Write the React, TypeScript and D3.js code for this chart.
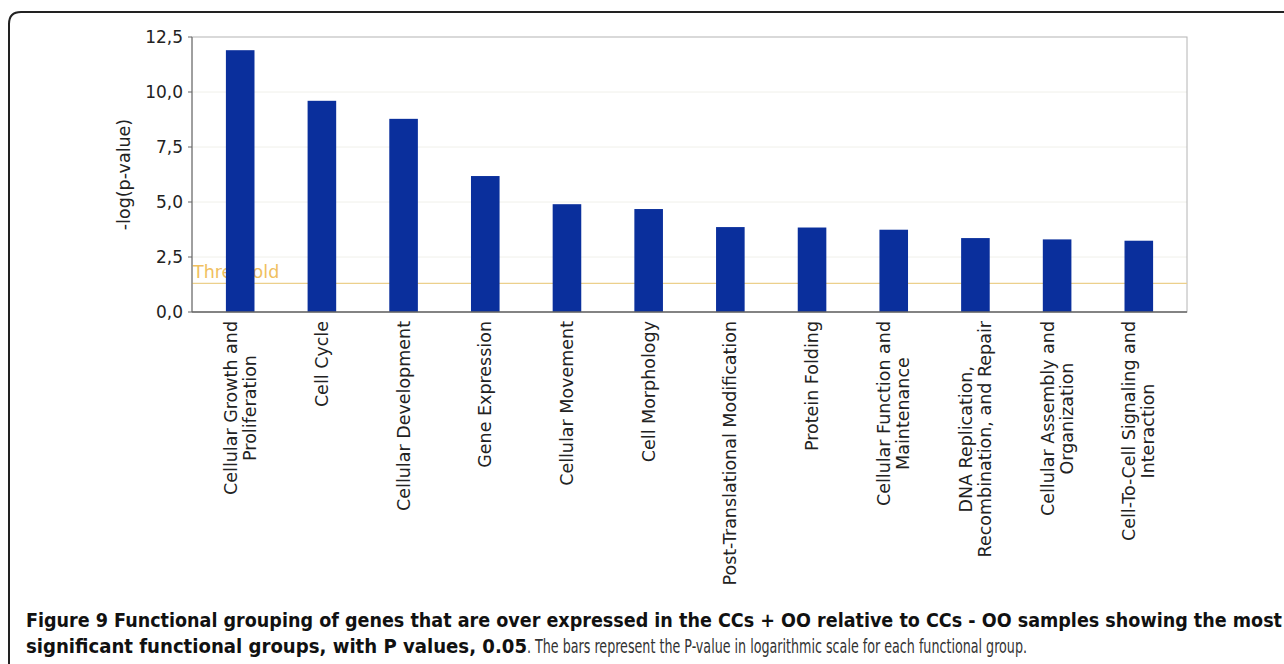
import * as d3 from "d3";
import React from "react";

// functional groups, left to right (line breaks as in the original labels)
const categories: string[][] = [
  ["Cellular Growth and", "Proliferation"],
  ["Cell Cycle"],
  ["Cellular Development"],
  ["Gene Expression"],
  ["Cellular Movement"],
  ["Cell Morphology"],
  ["Post-Translational Modification"],
  ["Protein Folding"],
  ["Cellular Function and", "Maintenance"],
  ["DNA Replication,", "Recombination, and Repair"],
  ["Cellular Assembly and", "Organization"],
  ["Cell-To-Cell Signaling and", "Interaction"],
];
const values: number[] = [11.9, 9.6, 8.78, 6.18, 4.9, 4.68, 3.86, 3.84, 3.74, 3.36, 3.3, 3.24];
const yTicks: number[] = [0, 2.5, 5, 7.5, 10, 12.5];
const threshold = 1.3; // -log(0.05)

const captionLine1 =
  "Figure 9 Functional grouping of genes that are over expressed in the CCs + OO relative to CCs - OO samples showing the most";
const captionBold2 = "significant functional groups, with P values, 0.05";
const captionNormal2 = ". The bars represent the P-value in logarithmic scale for each functional group.";

const W = 1284;
const H = 664;
const plot = { left: 192, right: 1187, top: 37, bottom: 312 };
const chartFont = "'DejaVu Sans', Verdana, sans-serif";
const capFont = "'Liberation Sans Narrow', 'DejaVu Sans Condensed', sans-serif";
const labelSize = 17.5;

// measure label widths so wrapped labels hang from the axis like the original
let ctx: CanvasRenderingContext2D | null = null;
function textWidth(s: string, size: number): number {
  if (!ctx) ctx = document.createElement("canvas").getContext("2d");
  if (!ctx) return s.length * size * 0.58;
  ctx.font = `${size}px 'DejaVu Sans'`;
  return ctx.measureText(s).width;
}

export default function App() {
  const x = d3
    .scaleBand<number>()
    .domain(d3.range(values.length))
    .range([plot.left, plot.right])
    .paddingInner(0.65)
    .paddingOuter(0.415);
  const y = d3.scaleLinear().domain([0, 12.5]).range([plot.bottom, plot.top]);
  const fmt = (v: number) => d3.format(".1f")(v).replace(".", ",");

  return (
    <svg
      width={W}
      height={H}
      style={{ position: "absolute", left: 0, top: 0, background: "#fff" }}
      fontFamily={chartFont}
    >
      {/* outer frame */}
      <path d={`M9,${H + 5} V24 Q9,12 21,12 H${W + 5}`} fill="none" stroke="#222" strokeWidth={2} />

      {/* grid */}
      {yTicks.slice(1, -1).map((t) => (
        <line key={t} x1={plot.left} x2={plot.right} y1={y(t)} y2={y(t)} stroke="#f0f0ea" />
      ))}

      {/* plot border */}
      <rect
        x={plot.left}
        y={plot.top}
        width={plot.right - plot.left}
        height={plot.bottom - plot.top}
        fill="none"
        stroke="#b4b4b4"
      />

      {/* threshold */}
      <line x1={plot.left} x2={plot.right} y1={y(threshold)} y2={y(threshold)} stroke="#ecd08c" strokeWidth={1.2} />
      <text x={plot.left + 1} y={y(threshold) - 5} fontSize={17.5} fill="#f0c060">
        Threshold
      </text>

      {/* bars */}
      {values.map((v, i) => (
        <rect key={i} x={x(i)} y={y(v)} width={x.bandwidth()} height={y(0) - y(v)} fill="#0a2f9c" />
      ))}

      {/* axes */}
      <line x1={plot.left} x2={plot.left} y1={plot.top} y2={plot.bottom} stroke="#666" />
      <line x1={plot.left} x2={plot.right} y1={plot.bottom} y2={plot.bottom} stroke="#666" strokeWidth={1.5} />
      {yTicks.map((t) => (
        <g key={t}>
          <line x1={plot.left - 4} x2={plot.left} y1={y(t)} y2={y(t)} stroke="#666" />
          <text x={plot.left - 9} y={y(t)} dy="0.35em" textAnchor="end" fontSize={17} fill="#222">
            {fmt(t)}
          </text>
        </g>
      ))}
      <text
        transform={`translate(130,${(plot.top + plot.bottom) / 2}) rotate(-90)`}
        textAnchor="middle"
        fontSize={17.5}
        fill="#222"
      >
        -log(p-value)
      </text>

      {/* category labels */}
      {categories.map((lines, i) => {
        const cx = (x(i) as number) + x.bandwidth() / 2;
        const lh = 19;
        const base0 = cx - ((lines.length - 1) * lh) / 2 + 6;
        const maxW = d3.max(lines, (l) => textWidth(l, labelSize)) ?? 0;
        return (
          <g key={i}>
            {lines.map((ln, j) => (
              <text
                key={j}
                transform={`translate(${base0 + j * lh},${plot.bottom + 9 + maxW / 2}) rotate(-90)`}
                textAnchor="middle"
                fontSize={labelSize}
                fill="#222"
              >
                {ln}
              </text>
            ))}
          </g>
        );
      })}

      {/* caption */}
      <text x={26} y={627} fontFamily={capFont} fontWeight="bold" fontSize={19} fill="#111" textLength={1256} lengthAdjust="spacingAndGlyphs">
        {captionLine1}
      </text>
      <text x={26} y={653} fontFamily={capFont} fontWeight="bold" fontSize={19} fill="#111" textLength={501} lengthAdjust="spacingAndGlyphs">
        {captionBold2}
      </text>
      <text x={527} y={653} fontFamily={capFont} fontSize={19} fill="#333" textLength={500} lengthAdjust="spacingAndGlyphs">
        {captionNormal2}
      </text>
    </svg>
  );
}
